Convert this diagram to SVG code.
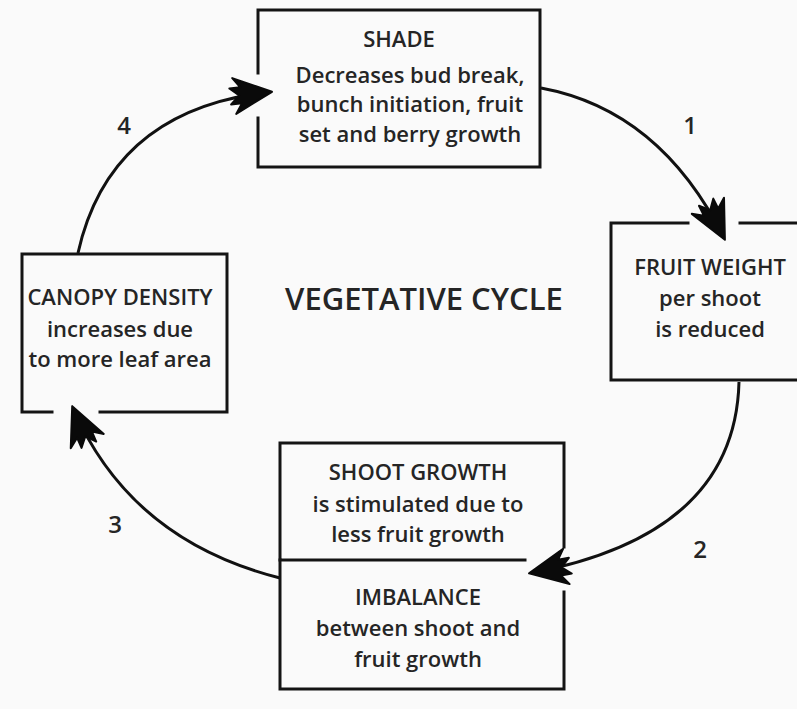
<svg xmlns="http://www.w3.org/2000/svg" width="797" height="709" viewBox="0 0 797 709">
<defs>
<style>
.box{fill:none;stroke:#141414;stroke-width:3;stroke-linecap:square}
.t{font-family:"Open Sans","Noto Sans",sans-serif;font-weight:600;font-size:22px;fill:#252525;text-anchor:middle}
.big{font-size:31px}
.num{font-size:24px}
.conn{fill:none;stroke:#111;stroke-width:3}
</style>
<marker id="ah" markerUnits="userSpaceOnUse" markerWidth="46" markerHeight="46" viewBox="-42 -21 46 42" refX="0" refY="0" orient="auto">
<path d="M2,0 L-36,-18 L-29,-8 L-40,-8 L-31,0 L-40,8 L-29,8 L-36,18 Z" fill="#0a0a0a" stroke="#0a0a0a" stroke-width="2" stroke-linejoin="round"/>
</marker>
</defs>
<rect width="797" height="709" fill="#fafafa"/>

<g id="connectors">
<path class="conn" d="M541,88 Q660,110 724,238" marker-end="url(#ah)"/>
<path class="conn" d="M739,382 Q735,535 531,573" marker-end="url(#ah)"/>
<path class="conn" d="M280,578 Q130,540 73,408" marker-end="url(#ah)"/>
<path class="conn" d="M78,253 Q110,110 270,92" marker-end="url(#ah)"/>
<text class="t num" x="690" y="134">1</text>
<text class="t num" x="700" y="558">2</text>
<text class="t num" x="115" y="533">3</text>
<text class="t num" x="124" y="134">4</text>
</g>

<g id="shade">
<path class="box" d="M258,73 V10 H540 V167 H258 V118"/>
<text class="t" x="399" y="47">SHADE</text>
<text class="t" x="410" y="83">Decreases bud break,</text>
<text class="t" x="410" y="112">bunch initiation, fruit</text>
<text class="t" x="410" y="142">set and berry growth</text>
</g>

<g id="fruit-weight">
<path class="box" d="M688,223 H611 V380 H797 M740,223 H797"/>
<text class="t" x="710" y="275">FRUIT WEIGHT</text>
<text class="t" x="710" y="306">per shoot</text>
<text class="t" x="710" y="337">is reduced</text>
</g>

<g id="shoot-growth">
<path class="box" d="M564,547 V443 H280 V560 H525"/>
<text class="t" x="418" y="480">SHOOT GROWTH</text>
<text class="t" x="418" y="512">is stimulated due to</text>
<text class="t" x="418" y="542">less fruit growth</text>
</g>

<g id="imbalance">
<path class="box" d="M280,560 V689 H564 V592"/>
<text class="t" x="418" y="605">IMBALANCE</text>
<text class="t" x="418" y="636">between shoot and</text>
<text class="t" x="418" y="667">fruit growth</text>
</g>

<g id="canopy-density">
<path class="box" d="M52,412 H22 V254 H227 V412 H100"/>
<text class="t" x="120" y="305">CANOPY DENSITY</text>
<text class="t" x="120" y="337">increases due</text>
<text class="t" x="120" y="367">to more leaf area</text>
</g>

<g id="title">
<text class="t big" x="424" y="310">VEGETATIVE CYCLE</text>
</g>
</svg>
